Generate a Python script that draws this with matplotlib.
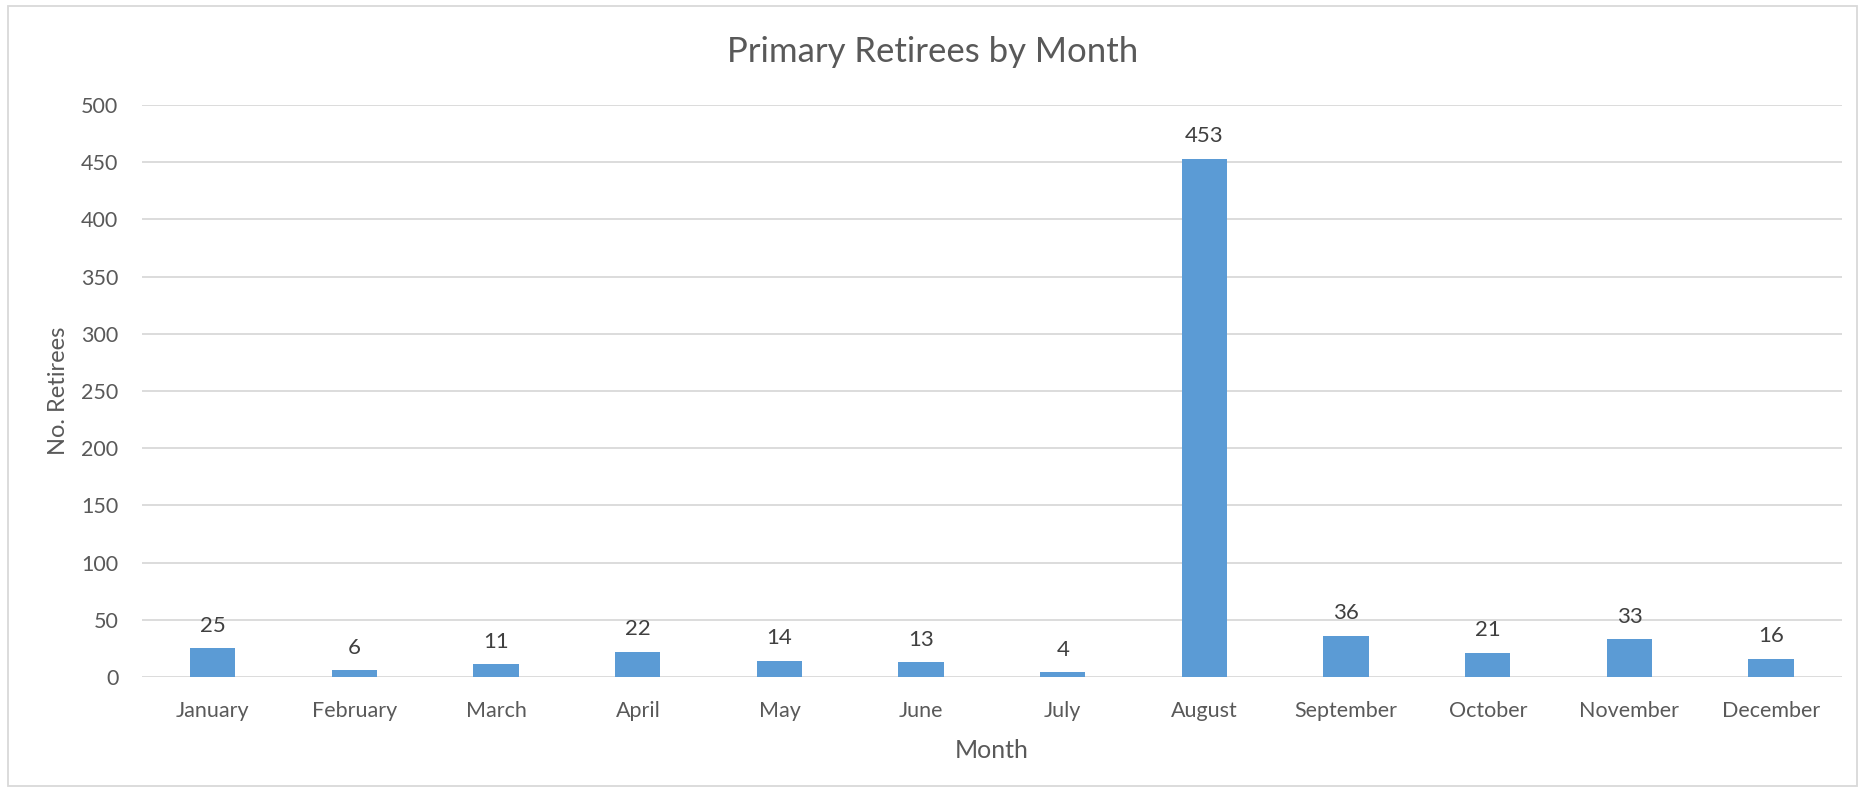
import matplotlib
matplotlib.use("Agg")
import matplotlib.pyplot as plt
from matplotlib.patches import Rectangle

months = ["January", "February", "March", "April", "May", "June", "July",
          "August", "September", "October", "November", "December"]
retirees = [25, 6, 11, 22, 14, 13, 4, 453, 36, 21, 33, 16]
yticks = [0, 50, 100, 150, 200, 250, 300, 350, 400, 450, 500]

plt.rcParams['font.family'] = ['Lato', 'DejaVu Sans']
text_col = "#595959"

fig = plt.figure(figsize=(18.65, 7.92), dpi=100)
ax = fig.add_axes([142/1865, 1 - 677/792, 1700/1865, (677-105)/792])

x = list(range(len(months)))
bars = ax.bar(x, retirees, width=0.32, color="#5B9BD5", zorder=3)
for xi, v in zip(x, retirees):
    ax.annotate(str(v), (xi, v), xytext=(0, 9), textcoords="offset points",
                ha="center", va="bottom", fontsize=16, color="#404040")

ax.set_xlim(-0.5, len(months) - 0.5)
ax.set_ylim(0, 500)
ax.set_yticks(yticks)
ax.set_xticks(x)
ax.set_xticklabels(months)
ax.tick_params(axis="both", length=0, labelsize=15.5, colors=text_col)
ax.tick_params(axis="x", pad=17)
ax.tick_params(axis="y", pad=17)
ax.grid(axis="y", color="#D9D9D9", linewidth=1.3, zorder=0)
for s in ax.spines.values():
    s.set_visible(False)

ax.set_xlabel("Month", fontsize=18, color=text_col, labelpad=13)
ax.set_ylabel("No. Retirees", fontsize=17, color=text_col, labelpad=9)
fig.text(0.5, 1 - 52/792, "Primary Retirees by Month", ha="center", va="center",
         fontsize=25, color=text_col)

fig.patches.append(Rectangle((8/1865, 1 - 786/792), 1849/1865, 780/792,
                             transform=fig.transFigure, fill=False,
                             edgecolor="#D9D9D9", linewidth=1.3))

fig.savefig("out.png", dpi=100)
